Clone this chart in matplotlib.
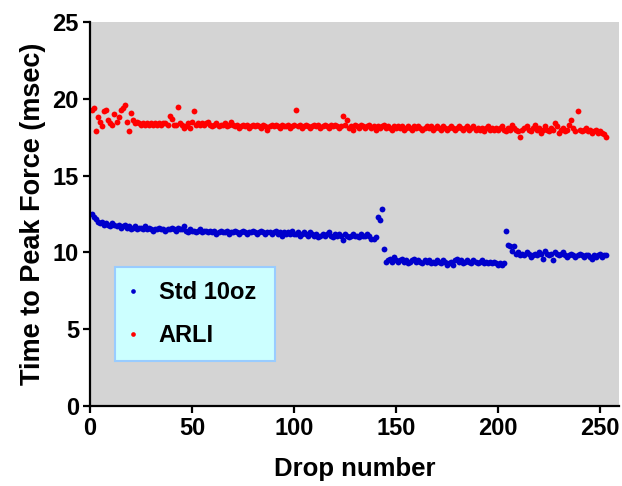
import matplotlib
matplotlib.use("Agg")
import matplotlib.pyplot as plt
import numpy as np

plt.rcParams['font.family'] = ['Liberation Sans', 'DejaVu Sans']

std10oz = [
    12.5, 12.3, 12.2, 12.0, 11.9, 12.0, 11.8, 11.9, 11.8, 11.7,
    11.9, 11.8, 11.7, 11.8, 11.6, 11.7, 11.8, 11.6, 11.7, 11.5,
    11.6, 11.7, 11.5, 11.6, 11.6, 11.5, 11.7, 11.5, 11.6, 11.5,
    11.4, 11.5, 11.5, 11.6, 11.5, 11.5, 11.4, 11.5, 11.5, 11.6,
    11.5, 11.4, 11.6, 11.5, 11.5, 11.7, 11.4, 11.3, 11.5, 11.4,
    11.4, 11.3, 11.4, 11.5, 11.3, 11.4, 11.4, 11.3, 11.4, 11.3,
    11.4, 11.2, 11.3, 11.4, 11.3, 11.3, 11.4, 11.2, 11.3, 11.3,
    11.4, 11.3, 11.2, 11.3, 11.4, 11.3, 11.2, 11.3, 11.3, 11.4,
    11.3, 11.2, 11.3, 11.4, 11.3, 11.2, 11.3, 11.3, 11.2, 11.3,
    11.4, 11.2, 11.3, 11.1, 11.3, 11.2, 11.3, 11.2, 11.4, 11.2,
    11.2, 11.3, 11.1, 11.2, 11.3, 11.2, 11.1, 11.3, 11.2, 11.1,
    11.2, 11.0, 11.1, 11.2, 11.1, 11.2, 11.3, 11.1, 11.0, 11.2,
    11.1, 11.2, 11.1, 10.8, 11.2, 11.1, 11.0, 11.1, 11.2, 11.1,
    11.1, 11.0, 11.2, 11.1, 11.1, 11.2, 11.1, 10.9, 10.9, 11.0,
    12.3, 12.1, 12.8, 10.2, 9.4, 9.5, 9.6, 9.4, 9.7, 9.5,
    9.4, 9.5, 9.6, 9.4, 9.5, 9.3, 9.4, 9.5, 9.6, 9.4,
    9.5, 9.4, 9.3, 9.5, 9.4, 9.5, 9.3, 9.4, 9.3, 9.5,
    9.4, 9.3, 9.5, 9.4, 9.2, 9.3, 9.4, 9.2, 9.5, 9.6,
    9.4, 9.5, 9.3, 9.4, 9.5, 9.4, 9.3, 9.5, 9.4, 9.3,
    9.4, 9.5, 9.3, 9.4, 9.3, 9.4, 9.3, 9.4, 9.3, 9.2,
    9.3, 9.2, 9.3, 11.4, 10.5, 10.4, 10.1, 10.4, 9.9, 10.0,
    9.8, 9.9, 9.8, 10.0, 9.9, 9.7, 9.8, 9.9, 9.8, 10.0,
    9.9, 9.6, 10.1, 9.9, 9.8, 9.9, 9.5, 10.0, 9.9, 9.8,
    9.9, 10.0, 9.8, 9.7, 9.8, 9.9, 9.8, 9.7, 9.8, 9.9,
    9.8, 9.7, 9.8, 9.8, 9.7, 9.6, 9.8, 9.7, 9.8, 9.9,
    9.7, 9.8, 9.8,
]

arli = [
    19.3, 19.4, 17.9, 18.8, 18.5, 18.2, 19.2, 19.3, 18.6, 18.4,
    18.3, 19.0, 18.5, 18.8, 19.3, 19.4, 19.6, 18.5, 17.9, 19.1,
    18.6, 18.4, 18.5, 18.4, 18.3, 18.4, 18.3, 18.4, 18.3, 18.4,
    18.3, 18.4, 18.3, 18.4, 18.3, 18.4, 18.4, 18.3, 18.9, 18.7,
    18.3, 18.3, 19.5, 18.4, 18.3, 18.1, 18.2, 18.4, 18.1, 18.5,
    19.2, 18.3, 18.4, 18.3, 18.4, 18.3, 18.4, 18.5, 18.3, 18.2,
    18.3, 18.4, 18.2, 18.3, 18.3, 18.4, 18.2, 18.3, 18.5, 18.3,
    18.2, 18.3, 18.1, 18.2, 18.3, 18.2, 18.3, 18.1, 18.2, 18.3,
    18.2, 18.3, 18.2, 18.1, 18.3, 18.2, 18.0, 18.2, 18.3, 18.2,
    18.3, 18.2, 18.1, 18.3, 18.2, 18.2, 18.3, 18.1, 18.2, 18.3,
    19.3, 18.2, 18.3, 18.1, 18.2, 18.3, 18.2, 18.1, 18.2, 18.3,
    18.2, 18.3, 18.1, 18.2, 18.3, 18.2, 18.1, 18.3, 18.2, 18.3,
    18.2, 18.1, 18.2, 18.9, 18.3, 18.6, 18.1, 18.2, 18.0, 18.3,
    18.2, 18.1, 18.3, 18.2, 18.1, 18.2, 18.3, 18.1, 18.2, 18.0,
    18.2, 18.1, 18.2, 18.3, 18.1, 18.2, 18.1, 18.0, 18.2, 18.1,
    18.2, 18.1, 18.2, 18.0, 18.1, 18.2, 18.1, 18.0, 18.2, 18.1,
    18.2, 18.1, 18.0, 18.1, 18.2, 18.1, 18.2, 18.0, 18.1, 18.2,
    18.1, 18.0, 18.2, 18.1, 18.0, 18.1, 18.2, 18.1, 18.0, 18.1,
    18.2, 18.1, 18.0, 18.1, 18.2, 18.0, 18.1, 18.2, 18.0, 18.1,
    18.0, 18.1, 17.9, 18.1, 18.2, 18.0, 18.1, 18.0, 18.1, 18.0,
    18.1, 18.2, 18.0, 17.9, 18.1, 18.0, 18.3, 18.1, 18.0, 17.9,
    17.5, 18.0, 18.1, 18.2, 18.0, 17.9, 18.1, 18.3, 18.0, 18.1,
    17.8, 18.0, 18.2, 18.0, 17.9, 18.1, 18.0, 18.4, 18.2, 17.8,
    18.0, 18.1, 17.9, 18.0, 18.3, 18.6, 18.1, 17.9, 19.2, 18.0,
    17.9, 18.0, 18.1, 17.9, 18.0, 17.8, 17.9, 18.0, 17.8, 17.9,
    17.8, 17.7, 17.5,
]

x_std = np.arange(1, len(std10oz) + 1)
x_arli = np.arange(1, len(arli) + 1)

fig = plt.figure(figsize=(6.22, 4.86), dpi=100)
ax = fig.add_axes([0.1447, 0.1646, 0.851, 0.790])
ax.set_facecolor('#d4d4d4')

ax.plot(x_std, std10oz, 'o', color='#0000cc', markersize=4.2, markeredgewidth=0,
        label='Std 10oz', linestyle='none')
ax.plot(x_arli, arli, 'o', color='#ff0000', markersize=4.2, markeredgewidth=0,
        label='ARLI', linestyle='none')

ax.set_xlim(0, 259.5)
ax.set_ylim(0, 25)
ax.set_xticks([0, 50, 100, 150, 200, 250])
ax.set_yticks([0, 5, 10, 15, 20, 25])

for s in ['top', 'right']:
    ax.spines[s].set_visible(False)
for s in ['left', 'bottom']:
    ax.spines[s].set_linewidth(1.6)
    ax.spines[s].set_color('black')

ax.tick_params(axis='both', direction='out', length=5, width=1.6, labelsize=17, pad=3)
for lab in ax.get_xticklabels() + ax.get_yticklabels():
    lab.set_fontweight('bold')

ax.set_xlabel('Drop number', fontsize=18.5, fontweight='bold', labelpad=12)
ax.set_ylabel('Time to Peak Force (msec)', fontsize=19.5, fontweight='bold', labelpad=5)

leg = ax.legend(loc='lower left', bbox_to_anchor=(0.047, 0.117, 0.302, 0.244),
                mode='expand', borderaxespad=0,
                prop={'weight': 'bold', 'size': 17},
                frameon=True, fancybox=False, markerscale=0.8, handletextpad=0.95,
                borderpad=0.6, labelspacing=0.85, handlelength=0.3)
frame = leg.get_frame()
frame.set_facecolor('#ccffff')
frame.set_edgecolor('#99ccff')
frame.set_linewidth(1.5)
frame.set_alpha(1)

fig.savefig('out.png', dpi=100)
